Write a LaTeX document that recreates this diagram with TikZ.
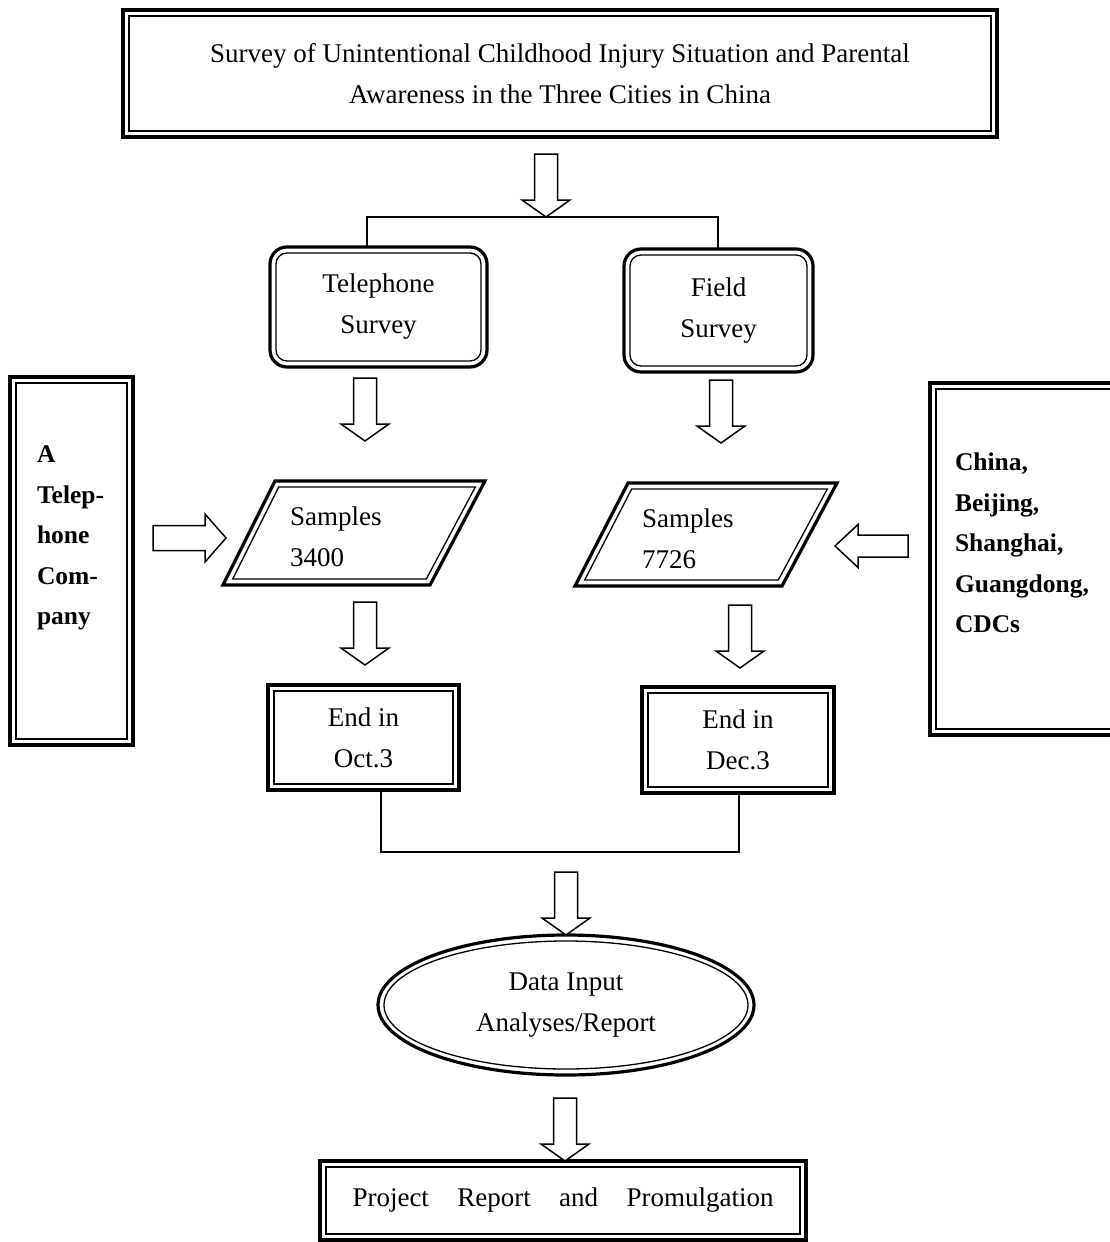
\documentclass[tikz,border=0pt]{standalone}
\usepackage{fontspec}
\setmainfont{Liberation Serif}
\usetikzlibrary{shapes.geometric}
\begin{document}
\begin{tikzpicture}[x=1pt,y=-1pt,
  every node/.style={font=\fontsize{27}{41}\selectfont, inner sep=0pt, outer sep=0pt},
  heavyline/.style={draw, line width=3.2pt},
  lightline/.style={draw, line width=1.3pt},
  boxframe/.style={heavyline, rectangle, align=center},
  roundbox/.style={heavyline, rectangle, rounded corners=17pt, align=center},
  ovalbox/.style={heavyline, ellipse, align=center},
  leftblock/.style={align=left, anchor=north west},
  sideblock/.style={leftblock, font=\fontsize{25.5}{40.5}\selectfont\bfseries},
  link/.style={draw, line width=1.4pt},
  blockarrow/.style={draw, line width=1.5pt, line join=miter, fill=white},
  downarrow/.pic={\path[blockarrow] (-11.5,-63) -- (-11.5,-17) -- (-24,-17) -- (0,0)
                   -- (24,-17) -- (11.5,-17) -- (11.5,-63) -- cycle;},
  rightarrow/.pic={\path[blockarrow] (-73,-12.5) -- (-21,-12.5) -- (-21,-24) -- (0,0)
                   -- (-21,24) -- (-21,12.5) -- (-73,12.5) -- cycle;},
  leftarrow/.pic={\path[blockarrow] (73,-11) -- (23,-11) -- (23,-21.5) -- (0,0)
                   -- (23,21.5) -- (23,11) -- (73,11) -- cycle;},
]
% page
\path[fill=white, use as bounding box] (0,0) rectangle (1109,1242);

% title
\node[boxframe, minimum width=874pt, minimum height=127pt] (title) at (560,73.5)
  {Survey of Unintentional Childhood Injury Situation and Parental\\Awareness in the Three Cities in China};

% the two survey branches
\node[roundbox, minimum width=217pt, minimum height=120pt] (tel) at (378.5,307) {Telephone\\Survey};
\node[roundbox, minimum width=189pt, minimum height=123pt] (field) at (718.5,310.5) {Field\\Survey};

% side sources
\node[boxframe, minimum width=123pt, minimum height=368pt] (company) at (71.5,561) {};
\node[sideblock] (companytext) at (37,446) {A\\Telep-\\hone\\Com-\\pany};
\node[boxframe, minimum width=195pt, minimum height=352pt] (cdc) at (1027.5,559) {};
\node[sideblock] (cdctext) at (955,453) {China,\\Beijing,\\Shanghai,\\Guangdong,\\CDCs};

% samples (parallelograms: thick outline, thin inner outline)
\draw[heavyline] (223,585) -- (275,481) -- (485,481) -- (430,585) -- cycle;
\draw[lightline] (232.7,579) -- (278.7,487) -- (475.3,487) -- (426.3,579) -- cycle;
\node[leftblock] (s1text) at (290,507) {Samples\\3400};
\draw[heavyline] (575,586) -- (628,483) -- (837,483) -- (782,586) -- cycle;
\draw[lightline] (584.7,580) -- (631.7,489) -- (827.3,489) -- (778.3,580) -- cycle;
\node[leftblock] (s2text) at (642,509) {Samples\\7726};

% end dates
\node[boxframe, minimum width=191pt, minimum height=105pt] (endoct) at (363.5,737.5) {End in\\Oct.3};
\node[boxframe, minimum width=192pt, minimum height=106pt] (enddec) at (738,740) {End in\\Dec.3};

% analysis and report
\node[ovalbox, minimum width=376pt, minimum height=140pt] (data) at (566,1005) {Data Input\\Analyses/Report};
\node[boxframe, minimum width=486pt, minimum height=79pt] (report) at (563,1200.5)
  {\makebox[421pt][s]{Project Report and Promulgation}};

% inner lines of the double frames
\foreach \n in {title,company,cdc,endoct,enddec,report}
  \draw[lightline] ([shift={(6pt,6pt)}]\n.south west) rectangle ([shift={(-6pt,-6pt)}]\n.north east);
\foreach \n in {tel,field}
  \draw[lightline, rounded corners=11pt] ([shift={(6pt,6pt)}]\n.south west) rectangle ([shift={(-6pt,-6pt)}]\n.north east);
\draw[lightline] (data.center) ellipse [x radius=182pt, y radius=64pt];

% connectors
\coordinate (split) at (546,217);
\draw[link] ([xshift=-11.5pt]tel.north) |- (split) -| ([xshift=-0.5pt]field.north);
\coordinate (merge) at (560,852);
\draw[link] ([xshift=17.5pt]endoct.south) |- (merge) -| ([xshift=1pt]enddec.south);

% block arrows
\pic at (546,217) {downarrow};
\pic at (365,441) {downarrow};
\pic at (721,443) {downarrow};
\pic at (365,665) {downarrow};
\pic at (740,668) {downarrow};
\pic at (566,935) {downarrow};
\pic at (565,1161) {downarrow};
\pic at (226,538) {rightarrow};
\pic at (835,546) {leftarrow};
\end{tikzpicture}
\end{document}
